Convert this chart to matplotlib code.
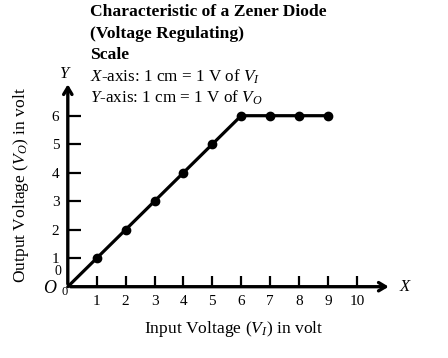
import matplotlib
matplotlib.use("Agg")
import matplotlib.pyplot as plt

plt.rcParams['font.family'] = ['Liberation Serif', 'DejaVu Serif']
plt.rcParams['mathtext.fontset'] = 'custom'
plt.rcParams['mathtext.rm'] = 'Liberation Serif'
plt.rcParams['mathtext.it'] = 'Liberation Serif:italic'

# Data
v_in = [0, 1, 2, 3, 4, 5, 6, 7, 8, 9]
v_out = [0, 1, 2, 3, 4, 5, 6, 6, 6, 6]
marker_in = [1, 2, 3, 4, 5, 6, 7, 8, 9]
marker_out = [1, 2, 3, 4, 5, 6, 6, 6, 6]
x_ticks = [1, 2, 3, 4, 5, 6, 7, 8, 9, 10]
y_ticks = [1, 2, 3, 4, 5, 6]
title_lines = ["Characteristic of a Zener Diode", "(Voltage Regulating)", "Scale"]
scale_lines = [r"$X$-axis: 1 cm = 1 V of $V_I$", r"$Y$-axis: 1 cm = 1 V of $V_O$"]

W, H = 448, 358
fig = plt.figure(figsize=(W/100, H/100), dpi=100)
x0, y0 = 67.8, 286.7
px_x, px_y = 28.9, 28.5
xmax, ymax = 11.2, 7.2
ax = fig.add_axes([x0/W, (H-y0)/H, xmax*px_x/W, ymax*px_y/H])
ax.set_xlim(0, xmax)
ax.set_ylim(0, ymax)
for s in ['top', 'right', 'left', 'bottom']:
    ax.spines[s].set_visible(False)

# axes with arrows
ax.annotate('', xy=(xmax, 0), xytext=(0, 0),
            arrowprops=dict(arrowstyle='->,head_length=0.5,head_width=0.3', lw=2.4, color='black'),
            annotation_clip=False)
ax.annotate('', xy=(0, ymax), xytext=(0, 0),
            arrowprops=dict(arrowstyle='->,head_length=0.5,head_width=0.3', lw=2.4, color='black'),
            annotation_clip=False)

ax.plot(v_in, v_out, color='black', lw=2.3, solid_capstyle='round', clip_on=False)
ax.plot(marker_in, marker_out, 'o', color='black', ms=6, clip_on=False)

ax.set_xticks(x_ticks)
ax.set_xticklabels([str(t) for t in x_ticks])
ax.set_yticks(y_ticks)
ax.set_yticklabels([str(t) for t in y_ticks])
ax.tick_params(axis='x', direction='in', length=8, width=1.6, labelsize=11, pad=6)
ax.tick_params(axis='y', direction='in', length=9, width=1.6, labelsize=11, pad=6)

# zero labels and axis names
ax.text(-0.12, -0.2, '0', fontsize=9, ha='center', va='center', transform=ax.transData)
ax.text(-0.35, 0.52, '0', fontsize=10, ha='center', va='center')
ax.text(-0.6, -0.05, r'$O$', fontsize=13, ha='center', va='center')
ax.text(11.7, 0, r'$X$', fontsize=12, ha='center', va='center', clip_on=False)
ax.text(-0.1, 7.45, r'$Y$', fontsize=12, ha='center', va='center', clip_on=False)

fig.text(234/W, 1-329/H, r'Input Voltage ($V_I$) in volt', fontsize=12.6, ha='center', va='center')
fig.text(21/W, 1-185/H, r'Output Voltage ($V_O$) in volt', fontsize=12.6, ha='center', va='center', rotation=90)

ys = [12, 34, 55]
for t, yy in zip(title_lines, ys):
    fig.text(90/W, 1-yy/H, t, fontsize=12.6, fontweight='bold', ha='left', va='center')
for t, yy in zip(scale_lines, [77, 98]):
    fig.text(90/W, 1-yy/H, t, fontsize=12.3, ha='left', va='center')

fig.savefig('out.png', dpi=100)
